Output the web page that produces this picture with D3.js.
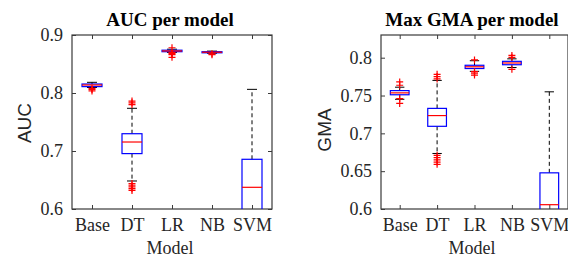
<!DOCTYPE html>
<html>
<head>
<meta charset="utf-8">
<script src="https://cdn.jsdelivr.net/npm/d3@7"></script>
<style>
	body { margin: 0; background: #fff; }
	svg { display: block; }
</style>
</head>
<body>
<svg id="chart" width="568" height="258"></svg>
<script>
var models = ["Base", "DT", "LR", "NB", "SVM"];

// AUC panel
var aucTicks = [0.6, 0.7, 0.8, 0.9];
var aucLow = [0.8095, 0.6483, 0.8700, 0.8685, 0.50];
var aucQ1 = [0.8110, 0.6955, 0.8712, 0.8693, 0.585];
var aucMedian = [0.8138, 0.7155, 0.8725, 0.8703, 0.6374];
var aucQ3 = [0.8155, 0.7298, 0.8738, 0.8712, 0.6857];
var aucHigh = [0.8184, 0.7736, 0.8755, 0.8722, 0.8063];
var aucOutliers = [
	[0.8035, 0.806, 0.808],
	[0.632, 0.635, 0.638, 0.641, 0.644, 0.780, 0.783, 0.786],
	[0.8615, 0.866, 0.868, 0.8695, 0.878],
	[0.866, 0.8675],
	[]
];

// GMA panel
var gmaTicks = [0.6, 0.65, 0.7, 0.75, 0.8];
var gmaLow = [0.7450, 0.6734, 0.7820, 0.7870, 0.50];
var gmaQ1 = [0.7510, 0.7093, 0.7857, 0.7907, 0.59];
var gmaMedian = [0.7535, 0.7235, 0.7880, 0.7930, 0.6057];
var gmaQ3 = [0.7565, 0.7330, 0.7900, 0.7952, 0.6478];
var gmaHigh = [0.7610, 0.7700, 0.7960, 0.7985, 0.7549];
var gmaOutliers = [
	[0.7395, 0.746, 0.7636, 0.768],
	[0.659, 0.662, 0.665, 0.668, 0.671, 0.772, 0.775, 0.778],
	[0.777, 0.7795, 0.7815, 0.797],
	[0.7846, 0.8005, 0.803],
	[]
];

var svg = d3.select("#chart");

drawPanel({
	id: "auc",
	left: 72, right: 272, top: 35, bottom: 209,
	yDomain: [0.6, 0.9],
	ticks: aucTicks,
	low: aucLow, q1: aucQ1, median: aucMedian, q3: aucQ3, high: aucHigh,
	outliers: aucOutliers,
	title: "AUC per model", titleX: 170, modelX: 170,
	yLabel: "AUC", yLabelX: 31, yLabelY: 123,
	rightTicks: true
});

drawPanel({
	id: "gma",
	left: 381, right: 568, top: 35, bottom: 209,
	yDomain: [0.6, 0.83],
	ticks: gmaTicks,
	low: gmaLow, q1: gmaQ1, median: gmaMedian, q3: gmaQ3, high: gmaHigh,
	outliers: gmaOutliers,
	title: "Max GMA per model", titleX: 472, modelX: 472,
	yLabel: "GMA", yLabelX: 331, yLabelY: 130,
	rightTicks: false
});

function drawPanel(p) {
	var axisColor = "#3a3a3a";
	var serif = "'Liberation Serif', 'Times New Roman', serif";

	var xScale = d3.scaleLinear()
		.domain([0.5, models.length + 0.5])
		.range([p.left, p.right]);

	var yScale = d3.scaleLinear()
		.domain(p.yDomain)
		.range([p.bottom, p.top]);

	var G = svg.append("g");

	G.append("clipPath")
		.attr("id", "clip-" + p.id)
		.append("rect")
		.attr("x", p.left)
		.attr("y", p.top)
		.attr("width", p.right - p.left)
		.attr("height", p.bottom - p.top);

	// axes: ticks point inside the box
	var xAxis = d3.axisBottom(xScale)
		.tickValues(d3.range(1, models.length + 1))
		.tickFormat(function(d) { return models[d - 1]; })
		.tickSizeInner(-4)
		.tickSizeOuter(0)
		.tickPadding(9);

	var yAxis = d3.axisLeft(yScale)
		.tickValues(p.ticks)
		.tickFormat(d3.format("~g"))
		.tickSizeInner(-4)
		.tickSizeOuter(0)
		.tickPadding(9);

	var gx = G.append("g")
		.attr("transform", "translate(0," + p.bottom + ")")
		.call(xAxis);
	var gy = G.append("g")
		.attr("transform", "translate(" + p.left + ",0)")
		.call(yAxis);

	// mirrored ticks on top / right
	var gxTop = G.append("g")
		.attr("transform", "translate(0," + p.top + ")")
		.call(d3.axisTop(xScale).tickValues(d3.range(1, models.length + 1))
			.tickSizeInner(-4).tickSizeOuter(0).tickFormat(""));
	var gyRight = null;
	if (p.rightTicks) {
		gyRight = G.append("g")
			.attr("transform", "translate(" + p.right + ",0)")
			.call(d3.axisRight(yScale).tickValues(p.ticks)
				.tickSizeInner(-4).tickSizeOuter(0).tickFormat(""));
	}

	[gx, gy, gxTop, gyRight].forEach(function(g) {
		if (!g) return;
		g.select(".domain").remove();
		g.selectAll(".tick line").attr("stroke", axisColor);
		g.selectAll(".tick text")
			.attr("fill", "#262626")
			.style("font-family", serif)
			.style("font-size", "18px");
	});
	gx.selectAll(".tick text").attr("dy", "0.71em").attr("y", 9);

	G.append("rect")
		.attr("x", p.left)
		.attr("y", p.top)
		.attr("width", p.right - p.left)
		.attr("height", p.bottom - p.top)
		.attr("fill", "none")
		.attr("stroke", axisColor)
		.attr("stroke-width", 1.2);

	// boxes
	var bw = (xScale(2) - xScale(1)) * 0.5;
	var boxes = G.append("g").attr("clip-path", "url(#clip-" + p.id + ")");

	for (var i = 0; i < models.length; i++) {
		var cx = xScale(i + 1);
		var b = boxes.append("g");

		// whiskers
		b.append("line")
			.attr("x1", cx).attr("x2", cx)
			.attr("y1", yScale(p.q3[i])).attr("y2", yScale(p.high[i]))
			.attr("stroke", "#000").attr("stroke-dasharray", "4,3");
		b.append("line")
			.attr("x1", cx).attr("x2", cx)
			.attr("y1", yScale(p.q1[i])).attr("y2", yScale(p.low[i]))
			.attr("stroke", "#000").attr("stroke-dasharray", "4,3");
		b.append("line")
			.attr("x1", cx - bw / 4).attr("x2", cx + bw / 4)
			.attr("y1", yScale(p.high[i])).attr("y2", yScale(p.high[i]))
			.attr("stroke", "#000");
		b.append("line")
			.attr("x1", cx - bw / 4).attr("x2", cx + bw / 4)
			.attr("y1", yScale(p.low[i])).attr("y2", yScale(p.low[i]))
			.attr("stroke", "#000");

		b.append("rect")
			.attr("x", cx - bw / 2)
			.attr("y", yScale(p.q3[i]))
			.attr("width", bw)
			.attr("height", yScale(p.q1[i]) - yScale(p.q3[i]))
			.attr("fill", "none")
			.attr("stroke", "#0000ff")
			.attr("stroke-width", 1.2);

		b.append("line")
			.attr("x1", cx - bw / 2).attr("x2", cx + bw / 2)
			.attr("y1", yScale(p.median[i])).attr("y2", yScale(p.median[i]))
			.attr("stroke", "#ff0000")
			.attr("stroke-width", 1.2);

		// outliers as red plus signs
		p.outliers[i].forEach(function(v) {
			var y = yScale(v);
			b.append("path")
				.attr("d", "M" + (cx - 3.5) + "," + y + "H" + (cx + 3.5) +
					"M" + cx + "," + (y - 3.5) + "V" + (y + 3.5))
				.attr("stroke", "#ff0000")
				.attr("stroke-width", 1.2)
				.attr("fill", "none");
		});
	}

	// titles and labels
	G.append("text")
		.attr("x", p.titleX)
		.attr("y", 26)
		.style("text-anchor", "middle")
		.style("font-family", serif)
		.style("font-weight", "bold")
		.style("font-size", "19px")
		.text(p.title);

	G.append("text")
		.attr("x", p.modelX)
		.attr("y", 254)
		.style("text-anchor", "middle")
		.style("font-family", serif)
		.style("font-size", "18px")
		.attr("fill", "#262626")
		.text("Model");

	G.append("text")
		.attr("transform", "translate(" + p.yLabelX + "," + p.yLabelY + ") rotate(-90)")
		.style("text-anchor", "middle")
		.style("font-family", "'Liberation Sans', Arial, sans-serif")
		.style("font-size", "19px")
		.attr("fill", "#262626")
		.text(p.yLabel);
}
</script>
</body>
</html>
